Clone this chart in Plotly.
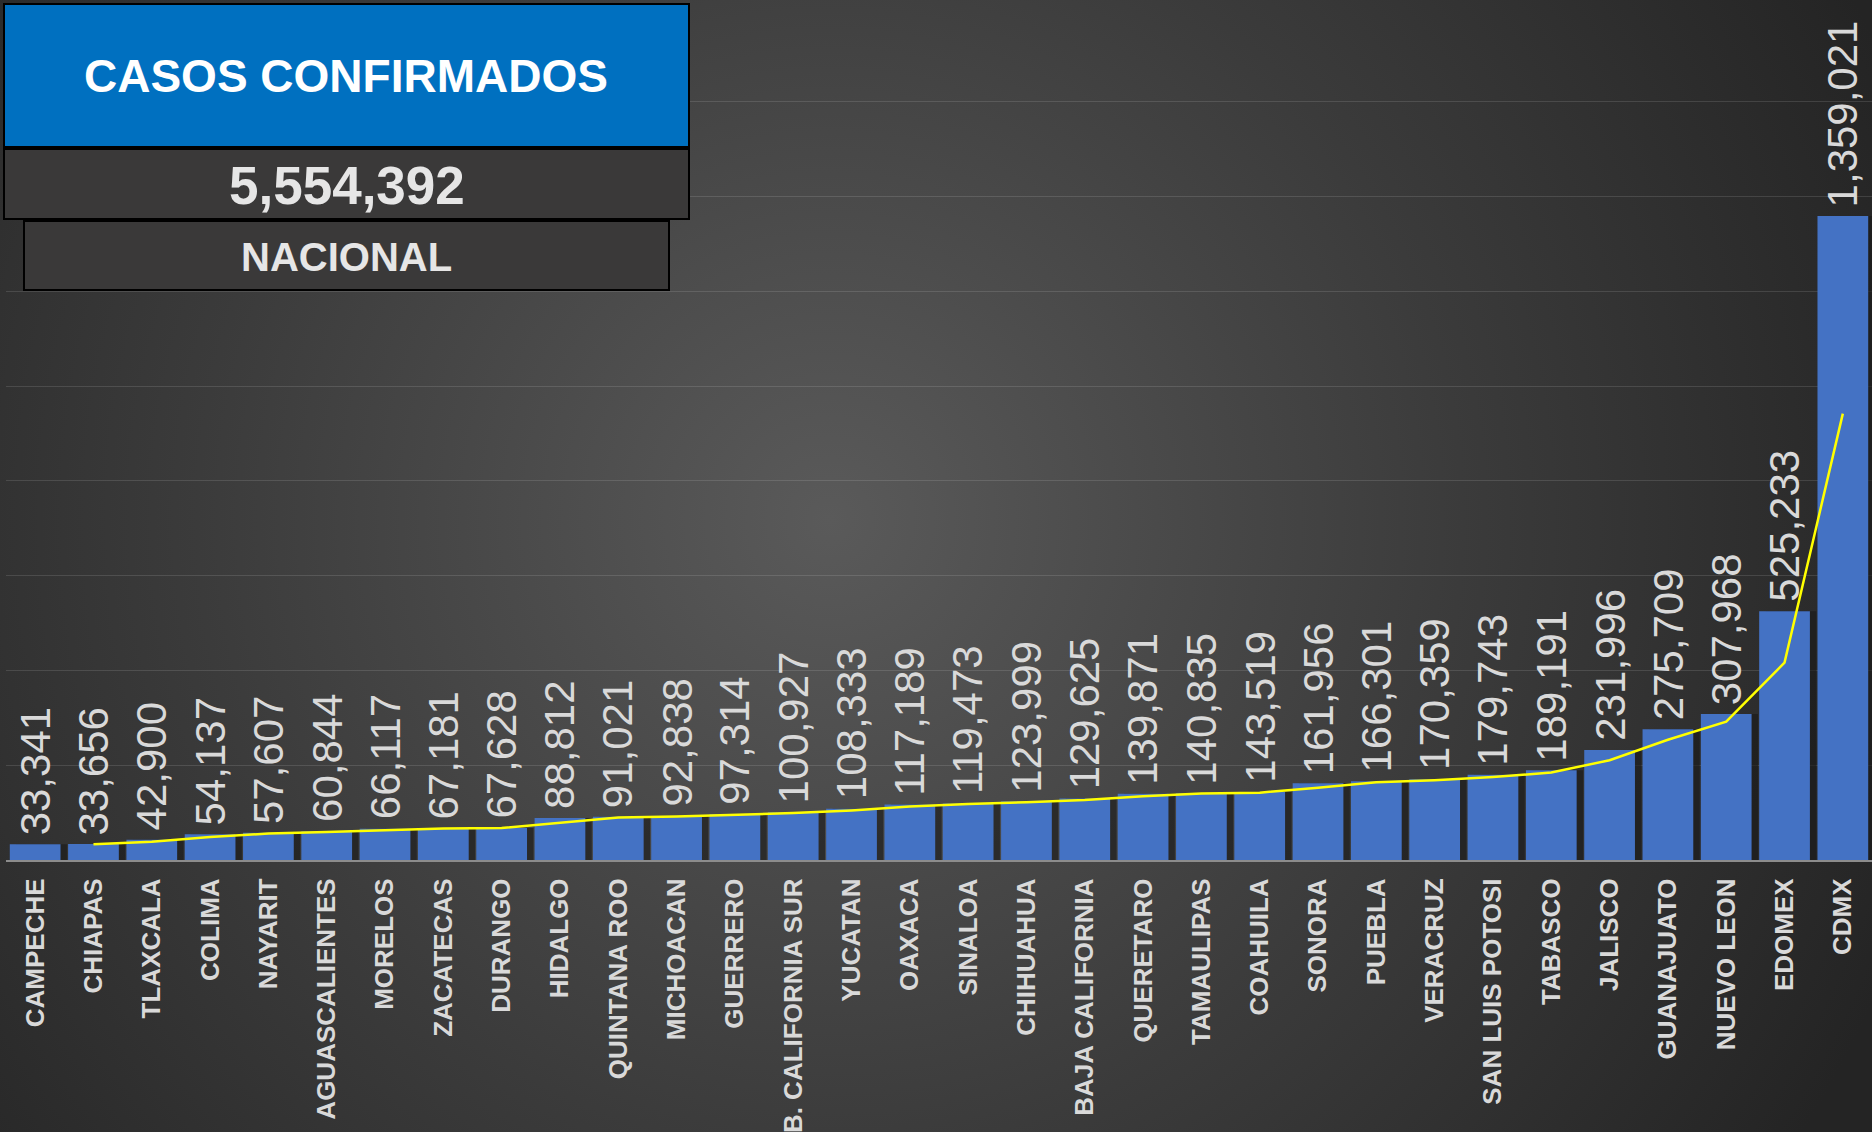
import base64
import plotly.graph_objects as go

W, H = 1872, 1132
ML, MR, MT, MB = 6, 0, 0, 272

estados = ["CAMPECHE", "CHIAPAS", "TLAXCALA", "COLIMA", "NAYARIT", "AGUASCALIENTES",
           "MORELOS", "ZACATECAS", "DURANGO", "HIDALGO", "QUINTANA ROO", "MICHOACAN",
           "GUERRERO", "B. CALIFORNIA SUR", "YUCATAN", "OAXACA", "SINALOA", "CHIHUAHUA",
           "BAJA CALIFORNIA", "QUERETARO", "TAMAULIPAS", "COAHUILA", "SONORA", "PUEBLA",
           "VERACRUZ", "SAN LUIS POTOSI", "TABASCO", "JALISCO", "GUANAJUATO",
           "NUEVO LEON", "EDOMEX", "CDMX"]
casos = [33341, 33656, 42900, 54137, 57607, 60844, 66117, 67181, 67628, 88812,
         91021, 92838, 97314, 100927, 108333, 117189, 119473, 123999, 129625, 139871,
         140835, 143519, 161956, 166301, 170359, 179743, 189191, 231996, 275709,
         307968, 525233, 1359021]
# 2-period moving-average trend line (as drawn in the reference)
tendencia = [None, 33498, 38278, 48518, 55872, 59226, 63480, 66649, 67404, 78220,
             89916, 91930, 95076, 99120, 104630, 112761, 118331, 121736, 126812,
             134748, 140353, 142177, 152738, 164128, 168330, 175051, 184467, 210594,
             253852, 291838, 416600, 942127]
ytick_vals = [0, 200000, 400000, 600000, 800000, 1000000, 1200000, 1400000, 1600000]
titulo = "CASOS CONFIRMADOS"
total_nacional = "5,554,392"
subtitulo = "NACIONAL"

FONT = "Liberation Sans, Arial, sans-serif"


def pxx(x):
    return (x - ML) / (W - ML - MR)


def pxy(y):
    return (H - MB - y) / (H - MT - MB)


# background radial gradient as an svg image
svg = f'''<svg xmlns="http://www.w3.org/2000/svg" width="{W}" height="{H}" viewBox="0 0 {W} {H}">
<defs><radialGradient id="g" gradientUnits="userSpaceOnUse" cx="830" cy="520" r="1150">
<stop offset="0" stop-color="#5a5a5a"/><stop offset="0.55" stop-color="#3b3b3b"/>
<stop offset="1" stop-color="#242424"/></radialGradient></defs>
<rect x="0" y="0" width="{W}" height="{H}" fill="url(#g)"/></svg>'''
bg_src = "data:image/svg+xml;base64," + base64.b64encode(svg.encode()).decode()

BW = 0.87
fig = go.Figure()
fig.add_trace(go.Bar(x=estados, y=casos, width=BW, offset=-BW / 2 + 0.11,
                     marker=dict(color="rgba(25,25,25,0.6)", line=dict(width=0)),
                     hoverinfo="skip", showlegend=False))
fig.add_trace(go.Bar(x=estados, y=casos, width=BW, offset=-BW / 2,
                     marker=dict(color="#4472C4", line=dict(width=0)),
                     showlegend=False))
fig.add_trace(go.Scatter(x=estados, y=tendencia, mode="lines",
                         line=dict(color="#FFFF00", width=2.5), showlegend=False))

annotations = []
for e, v in zip(estados, casos):
    annotations.append(dict(x=e, y=v, xref="x", yref="y", text=f"{v:,}",
                            textangle=-90, showarrow=False, xanchor="center",
                            yanchor="bottom", yshift=7,
                            font=dict(family=FONT, size=42, color="#d9d9d9")))

shapes = [
    dict(type="rect", xref="paper", yref="paper", x0=pxx(4), x1=pxx(689),
         y0=pxy(147), y1=pxy(4), fillcolor="#0070C0", line=dict(color="#000000", width=2),
         layer="above"),
    dict(type="rect", xref="paper", yref="paper", x0=pxx(4), x1=pxx(689),
         y0=pxy(219), y1=pxy(149), fillcolor="#3a3939", line=dict(color="#000000", width=2),
         layer="above"),
    dict(type="rect", xref="paper", yref="paper", x0=pxx(24), x1=pxx(669),
         y0=pxy(290), y1=pxy(221), fillcolor="#3a3939", line=dict(color="#000000", width=2),
         layer="above"),
]
annotations += [
    dict(x=pxx(346), y=pxy(76), xref="paper", yref="paper", text=f"<b>{titulo}</b>",
         showarrow=False, xanchor="center", yanchor="middle",
         font=dict(family=FONT, size=46, color="#ffffff")),
    dict(x=pxx(347), y=pxy(185), xref="paper", yref="paper", text=f"<b>{total_nacional}</b>",
         showarrow=False, xanchor="center", yanchor="middle",
         font=dict(family=FONT, size=53, color="#e6e6e6")),
    dict(x=pxx(346), y=pxy(257), xref="paper", yref="paper", text=f"<b>{subtitulo}</b>",
         showarrow=False, xanchor="center", yanchor="middle",
         font=dict(family=FONT, size=40, color="#e6e6e6")),
]

fig.update_layout(
    width=W, height=H, autosize=False,
    margin=dict(l=ML, r=MR, t=MT, b=MB, pad=0),
    paper_bgcolor="#2e2e2e", plot_bgcolor="rgba(0,0,0,0)",
    barmode="overlay", showlegend=False,
    images=[dict(source=bg_src, xref="paper", yref="paper", x=pxx(0), y=pxy(0),
                 sizex=pxx(W) - pxx(0), sizey=pxy(0) - pxy(H), sizing="stretch",
                 xanchor="left", yanchor="top", layer="below")],
    shapes=shapes, annotations=annotations,
    xaxis=dict(type="category", range=[-0.5, len(estados) - 0.5], showgrid=False,
               showline=True, linecolor="#8c8c8c", linewidth=2, zeroline=False,
               tickangle=-90, ticks="", ticklabelstandoff=6, automargin=False,
               tickfont=dict(family=FONT, size=26, color="#d9d9d9"),
               tickprefix="<b>", ticksuffix="</b>"),
    yaxis=dict(range=[0, 1815000], tickvals=ytick_vals, showticklabels=False,
               showgrid=True, gridcolor="rgba(255,255,255,0.12)", gridwidth=1,
               zeroline=False, showline=False, automargin=False),
)

fig.write_html("out.html", config={"displayModeBar": False},
               post_script="document.body.style.margin='0';document.body.style.overflow='hidden';")
